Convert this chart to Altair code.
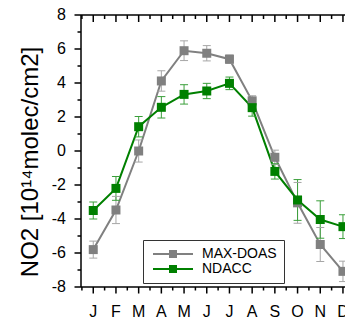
import altair as alt
import pandas as pd

months = ["J", "F", "M", "A", "M", "J", "J", "A", "S", "O", "N", "D"]
month_num = list(range(1, 13))

maxdoas = [-5.8, -3.47, 0.0, 4.12, 5.9, 5.75, 5.4, 2.95, -0.37, -3.05, -5.5, -7.08]
maxdoas_err = [0.5, 0.8, 0.65, 0.6, 0.58, 0.45, 0.25, 0.3, 0.42, 1.2, 1.0, 0.6]
ndacc = [-3.5, -2.2, 1.43, 2.57, 3.33, 3.53, 3.98, 2.55, -1.2, -2.88, -4.03, -4.45]
ndacc_err = [0.5, 0.7, 0.6, 0.63, 0.57, 0.45, 0.37, 0.5, 0.45, 1.2, 1.1, 0.7]

series_names = ["MAX-DOAS", "NDACC"]
series_colors = ["#808080", "#008000"]
errbar_colors = ["#a6a6a6", "#3a9f3a"]

y_major = list(range(-8, 9, 2))
y_minor = list(range(-7, 8, 2))
x_minor = [m - 0.5 for m in month_num] + [12.5]
xdom = [0.46, 12.09]
ydom = [-8, 8]

rows = []
for name, vals, errs in [("MAX-DOAS", maxdoas, maxdoas_err), ("NDACC", ndacc, ndacc_err)]:
    for m, v, e in zip(month_num, vals, errs):
        rows.append({"month": m, "value": v, "lo": v - e, "hi": v + e, "series": name})
df = pd.DataFrame(rows)

xmaj_df = pd.DataFrame({"month": month_num, "label": months})
xmin_df = pd.DataFrame({"month": x_minor})
ymaj_df = pd.DataFrame({"value": y_major, "label": [str(v) for v in y_major]})
ymin_df = pd.DataFrame({"value": y_minor})
frame_df = pd.DataFrame({
    "month": [xdom[0], xdom[0], xdom[0]],
    "month2": [xdom[0], xdom[1], xdom[1]],
    "value": [ydom[0], ydom[0], ydom[1]],
    "value2": [ydom[1], ydom[0], ydom[1]],
})

FONT = "Liberation Sans"
YTITLE = "NO2 [10\u00b9\u2074molec/cm2]"
xscale = alt.Scale(domain=xdom, range=[81, 345], nice=False, zero=False)
yscale = alt.Scale(domain=ydom, range=[287, 15], nice=False, zero=False)

legend = alt.Legend(
    title=None, orient="none", legendX=143, legendY=240,
    symbolType="M-5,0H5M-1,-0.75H1M-1,-0.25H1M-1,0.25H1M-1,0.75H1",
    symbolSize=64, symbolStrokeWidth=2, symbolOpacity=1,
    labelFontSize=14, labelFont=FONT, labelColor="black",
    strokeColor="#333333", padding=7, rowPadding=1, labelOffset=22, symbolOffset=16,
)

base = alt.Chart(df)
lines = base.mark_line(strokeWidth=2).encode(
    x=alt.X("month:Q", scale=xscale, axis=None),
    y=alt.Y("value:Q", scale=yscale, axis=None),
    color=alt.Color("series:N", scale=alt.Scale(domain=series_names, range=series_colors),
                    legend=legend),
)
err_color = alt.Color("series:N", scale=alt.Scale(domain=series_names, range=errbar_colors),
                      legend=None)
err_rules = base.mark_rule(strokeWidth=1).encode(
    x="month:Q", y="lo:Q", y2="hi:Q", color=err_color,
)
err_lo = base.mark_tick(size=8, thickness=1, opacity=1, orient="horizontal").encode(
    x="month:Q", y="lo:Q", color=err_color,
)
err_hi = base.mark_tick(size=8, thickness=1, opacity=1, orient="horizontal").encode(
    x="month:Q", y="hi:Q", color=err_color,
)
points = base.mark_point(shape="square", filled=True, size=81, opacity=1).encode(
    x="month:Q", y="value:Q",
    color=alt.Color("series:N", scale=alt.Scale(domain=series_names, range=series_colors),
                    legend=None),
)

frame = alt.Chart(frame_df).mark_rule(color="black", strokeWidth=1.5).encode(
    x="month:Q", x2="month2:Q", y="value:Q", y2="value2:Q"
)
rule = dict(color="black", strokeWidth=1.5)
top_major = alt.Chart(xmaj_df).mark_rule(**rule).encode(
    x="month:Q", y=alt.value(15), y2=alt.value(22))
top_minor = alt.Chart(xmin_df).mark_rule(**rule).encode(
    x="month:Q", y=alt.value(15), y2=alt.value(19))
bot_major = alt.Chart(xmaj_df).mark_rule(**rule).encode(
    x="month:Q", y=alt.value(287), y2=alt.value(293.5))
bot_minor = alt.Chart(xmin_df).mark_rule(**rule).encode(
    x="month:Q", y=alt.value(287), y2=alt.value(290.5))
left_major = alt.Chart(ymaj_df).mark_rule(**rule).encode(
    y="value:Q", x=alt.value(81), x2=alt.value(74.5))
left_minor = alt.Chart(ymin_df).mark_rule(**rule).encode(
    y="value:Q", x=alt.value(81), x2=alt.value(77.5))

x_labels = alt.Chart(xmaj_df).mark_text(
    font=FONT, fontSize=16, color="black", baseline="alphabetic", align="center"
).encode(x="month:Q", y=alt.value(317), text="label:N")
y_labels = alt.Chart(ymaj_df).mark_text(
    font=FONT, fontSize=16, color="black", baseline="middle", align="right"
).encode(y="value:Q", x=alt.value(66), text="label:N")
y_title = alt.Chart(pd.DataFrame({"t": [YTITLE]})).mark_text(
    font=FONT, fontSize=24, color="black", angle=270, baseline="alphabetic", align="center"
).encode(x=alt.value(38), y=alt.value(162), text="t:N")

chart = alt.layer(
    lines, err_rules, err_lo, err_hi, points,
    frame, top_major, top_minor, bot_major, bot_minor, left_major, left_minor,
    x_labels, y_labels, y_title,
).resolve_scale(color="independent").properties(
    width=345, height=321,
    autosize=alt.AutoSizeParams(type="none"),
    padding=0,
    background="white",
).configure_view(stroke=None)

chart.save("out.html", embed_options={"renderer": "svg", "actions": False})
